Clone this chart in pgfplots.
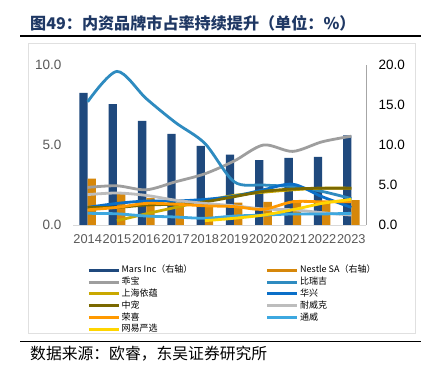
\documentclass[border=0pt]{standalone}
\usepackage{fontspec}
\setmainfont{Liberation Sans}
\newfontfamily\cjk{Noto Sans CJK SC}
\usepackage{pgfplots}
\pgfplotsset{compat=1.18}
\definecolor{titleblue}{RGB}{31,56,100}
\definecolor{marsblue}{RGB}{31,73,125}
\definecolor{nestle}{RGB}{214,135,10}
\definecolor{guaibao}{RGB}{158,158,158}
\definecolor{biruiji}{RGB}{46,139,192}
\definecolor{yiyun}{RGB}{201,168,0}
\definecolor{huaxing}{RGB}{10,111,200}
\definecolor{zhongchong}{RGB}{122,104,0}
\definecolor{naiweike}{RGB}{189,189,189}
\definecolor{rongxi}{RGB}{255,153,0}
\definecolor{tongwei}{RGB}{61,168,224}
\definecolor{wangyi}{RGB}{255,213,0}
\definecolor{ticklab}{RGB}{89,89,89}
\begin{document}
\begin{tikzpicture}
\fill[white] (0pt,0pt) rectangle (431pt,375pt);
\node[anchor=west, inner sep=0pt, text=titleblue] at (30pt,352pt) {\cjk\bfseries\fontsize{16.1}{18}\selectfont 图49：内资品牌市占率持续提升（单位：\%）};
\draw[black, line width=1.8pt] (20pt,339pt) -- (421pt,339pt);
\draw[black!12, line width=0.9pt] (28pt,42pt) rectangle (415pt,332pt);
\draw[black, line width=1.5pt] (20pt,33.5pt) -- (421pt,33.5pt);
\node[anchor=west, inner sep=0pt] at (30pt,21pt) {\cjk\fontsize{15.8}{17}\selectfont 数据来源：欧睿，东吴证券研究所};

% bars on right axis
\begin{axis}[
  at={(73pt,150pt)}, anchor=south west,
  width=293pt, height=160pt, scale only axis,
  xmin=-0.5, xmax=9.5, ymin=0, ymax=20,
  axis y line*=right, axis x line=none,
  y axis line style={draw=black!35, line width=1pt, -},
  ytick={0,5,10,15,20},
  major tick length=0pt,
  /pgf/number format/assume math mode=true,
  yticklabel style={/pgf/number format/fixed, /pgf/number format/precision=1, /pgf/number format/fixed zerofill, font=\fontsize{13.5}{15}\selectfont, text=black, xshift=9pt},
  ybar=0pt, bar width=8.3pt,
  clip=false,
]
\addplot[fill=marsblue, draw=none] coordinates {(0,16.5) (1,15.1) (2,13.0) (3,11.4) (4,9.9) (5,8.8) (6,8.1) (7,8.4) (8,8.5) (9,11.2)};
\addplot[fill=nestle, draw=none] coordinates {(0,5.8) (1,4.0) (2,3.4) (3,2.5) (4,2.3) (5,2.8) (6,2.9) (7,3.1) (8,2.8) (9,3.1)};
\end{axis}

% lines on left axis
\begin{axis}[
  at={(73pt,150pt)}, anchor=south west,
  width=293pt, height=160pt, scale only axis,
  xmin=-0.5, xmax=9.5, ymin=0, ymax=10,
  axis y line*=left, axis x line*=bottom,
  y axis line style={draw=none},
  x axis line style={draw=black!15, line width=1pt, -},
  xtick={0,1,2,3,4,5,6,7,8,9},
  xticklabels={2014,2015,2016,2017,2018,2019,2020,2021,2022,2023},
  ytick={0,5,10},
  major tick length=0pt,
  /pgf/number format/assume math mode=true,
  yticklabel style={/pgf/number format/fixed, /pgf/number format/precision=1, /pgf/number format/fixed zerofill, font=\fontsize{13.5}{15}\selectfont, text=ticklab, xshift=-8pt},
  xticklabel style={font=\fontsize{12.8}{14}\selectfont, text=ticklab, yshift=-6pt},
  every axis plot/.append style={smooth, line width=2.8pt},
  legend columns=2,
  legend cell align=left,
  legend image code/.code={\draw[#1, line width=3pt] (0pt,0pt) -- (30pt,0pt);},
  legend style={at={(0.048,-0.245)}, anchor=north west, draw=none, fill=none, inner sep=0pt,
    font=\cjk\fontsize{9}{10}\selectfont,
    nodes={inner sep=1.4pt, text height=7pt, text depth=2pt},
    /tikz/every even column/.append style={column sep=72pt}},
  clip=false,
]
\addlegendimage{color=marsblue, line width=3pt}
\addlegendentry{Mars Inc（右轴）}
\addlegendimage{color=nestle, line width=3pt}
\addlegendentry{Nestle SA（右轴）}
\addplot[color=guaibao] coordinates {(0,2.35) (1,2.45) (2,2.2) (3,2.7) (4,3.2) (5,4.0) (6,5.0) (7,4.6) (8,5.2) (9,5.55)};
\addlegendentry{乖宝}
\addplot[color=biruiji] coordinates {(0,7.7) (1,9.6) (2,7.9) (3,6.4) (4,5.1) (5,2.7) (6,2.5) (7,2.4) (8,2.1) (9,1.65)};
\addlegendentry{比瑞吉}
\addplot[color=yiyun] coordinates {(1,0.27) (2,0.7) (3,1.1) (4,1.5) (5,1.85) (6,2.05) (7,2.2) (8,2.3) (9,2.3)};
\addlegendentry{上海依蕴}
\addplot[color=huaxing] coordinates {(0,1.1) (1,1.35) (2,1.5) (3,1.5) (4,1.6) (5,1.8) (6,2.2) (7,2.55) (8,1.77) (9,1.1)};
\addlegendentry{华兴}
\addplot[color=zhongchong] coordinates {(0,1.1) (1,1.1) (2,1.25) (3,1.3) (4,1.45) (5,1.77) (6,2.1) (7,2.25) (8,2.3) (9,2.3)};
\addlegendentry{中宠}
\addplot[color=naiweike] coordinates {(0,1.9) (1,2.0) (2,1.85) (3,1.55) (4,1.35) (5,1.2) (6,1.0) (7,0.95) (8,0.77) (9,0.62)};
\addlegendentry{耐威克}
\addplot[color=rongxi] coordinates {(0,0.95) (1,1.1) (2,1.35) (3,1.3) (4,1.2) (5,1.15) (6,0.98) (7,1.45) (8,1.45) (9,1.45)};
\addlegendentry{荣喜}
\addplot[color=tongwei] coordinates {(0,0.73) (1,0.7) (2,0.56) (3,0.5) (4,0.42) (5,0.56) (6,0.62) (7,0.69) (8,0.69) (9,0.73)};
\addlegendentry{通威}
\addplot[color=wangyi] coordinates {(4,0.27) (5,0.42) (6,0.62) (7,0.95) (8,1.35) (9,1.6)};
\addlegendentry{网易严选}
\end{axis}
\end{tikzpicture}
\end{document}
